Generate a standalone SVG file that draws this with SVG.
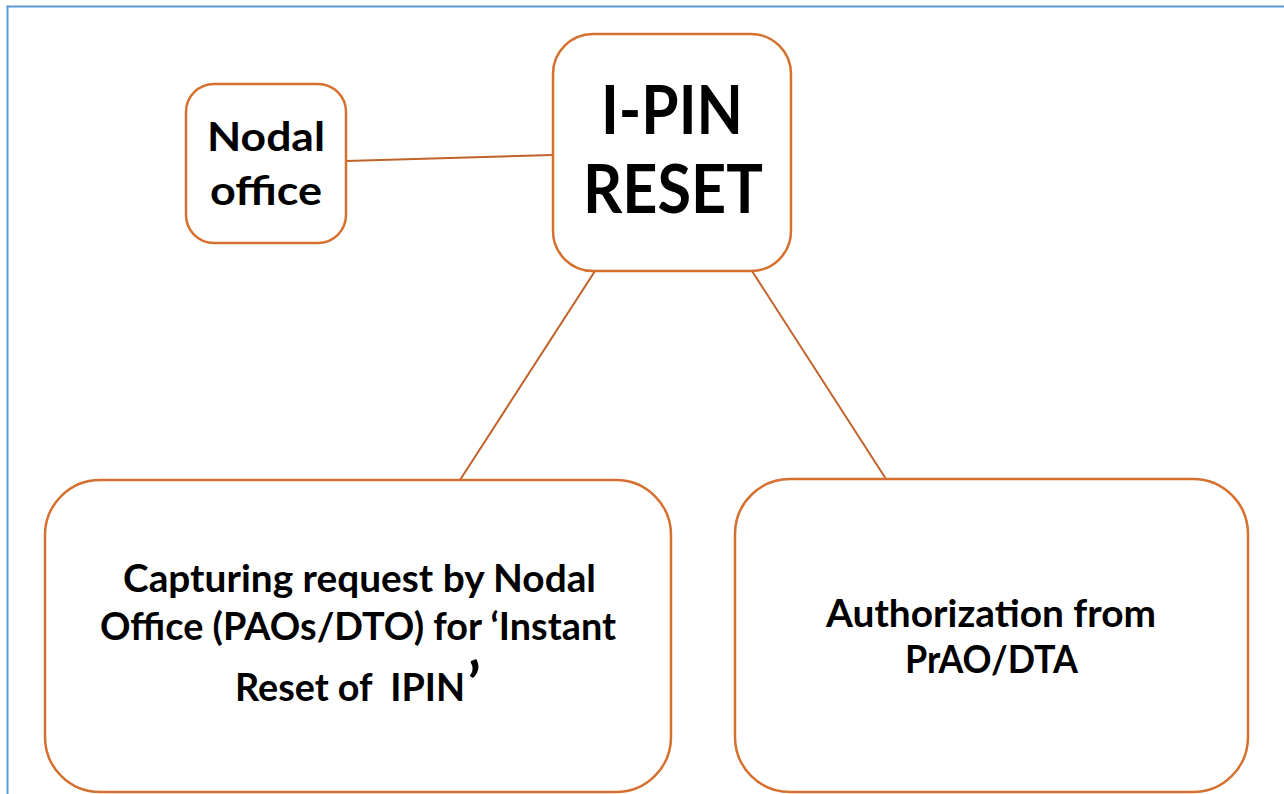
<svg xmlns="http://www.w3.org/2000/svg" width="1284" height="794" viewBox="0 0 1284 794">
<style>
.box{fill:#ffffff;stroke:#d5702f;stroke-width:2.5}
.conn{stroke:#c0622a;stroke-width:2;fill:none}
.t{font-family:Lato,"Open Sans","Liberation Sans",sans-serif;font-weight:bold;fill:#000000;text-anchor:middle}
</style>
<rect width="1284" height="794" fill="#ffffff"/>
<g id="frame">
<line x1="7.5" y1="6" x2="7.5" y2="794" stroke="#5b9bd5" stroke-width="2"/>
<line x1="6.5" y1="6.5" x2="1284" y2="6.5" stroke="#5b9bd5" stroke-width="2"/>
</g>
<g id="connectors">
<line class="conn" x1="346" y1="161" x2="553" y2="155"/>
<line class="conn" x1="595" y1="271" x2="460" y2="480"/>
<line class="conn" x1="752" y1="271" x2="886" y2="479"/>
</g>
<g id="nodal-office">
<rect class="box" x="186" y="84" width="160" height="159" rx="28"/>
<text class="t" font-size="41" x="266" y="151" textLength="118" lengthAdjust="spacingAndGlyphs">Nodal</text>
<text class="t" font-size="41" x="266" y="205" textLength="112" lengthAdjust="spacingAndGlyphs">office</text>
</g>
<g id="ipin-reset">
<rect class="box" x="553" y="34" width="238" height="237" rx="40"/>
<text class="t" font-size="66" x="672" y="134" textLength="142" lengthAdjust="spacingAndGlyphs">I-PIN</text>
<text class="t" font-size="66" x="673" y="213" textLength="180" lengthAdjust="spacingAndGlyphs">RESET</text>
</g>
<g id="capturing-request">
<rect class="box" x="45" y="480" width="626" height="312" rx="55"/>
<text class="t" font-size="38" x="359.5" y="592" textLength="473" lengthAdjust="spacingAndGlyphs">Capturing request by Nodal</text>
<text class="t" font-size="38" x="358" y="640" textLength="516" lengthAdjust="spacingAndGlyphs">Office (PAOs/DTO) for ‘Instant</text>
<text class="t" font-size="38" x="350" y="701" textLength="230" lengthAdjust="spacingAndGlyphs" xml:space="preserve">Reset of  IPIN</text>
<text class="t" font-size="60" x="474" y="705">’</text>
</g>
<g id="authorization">
<rect class="box" x="735" y="479" width="513" height="313" rx="55"/>
<text class="t" font-size="38" x="991" y="627" textLength="330" lengthAdjust="spacingAndGlyphs">Authorization from</text>
<text class="t" font-size="38" x="991.5" y="673" textLength="173" lengthAdjust="spacingAndGlyphs">PrAO/DTA</text>
</g>
</svg>
